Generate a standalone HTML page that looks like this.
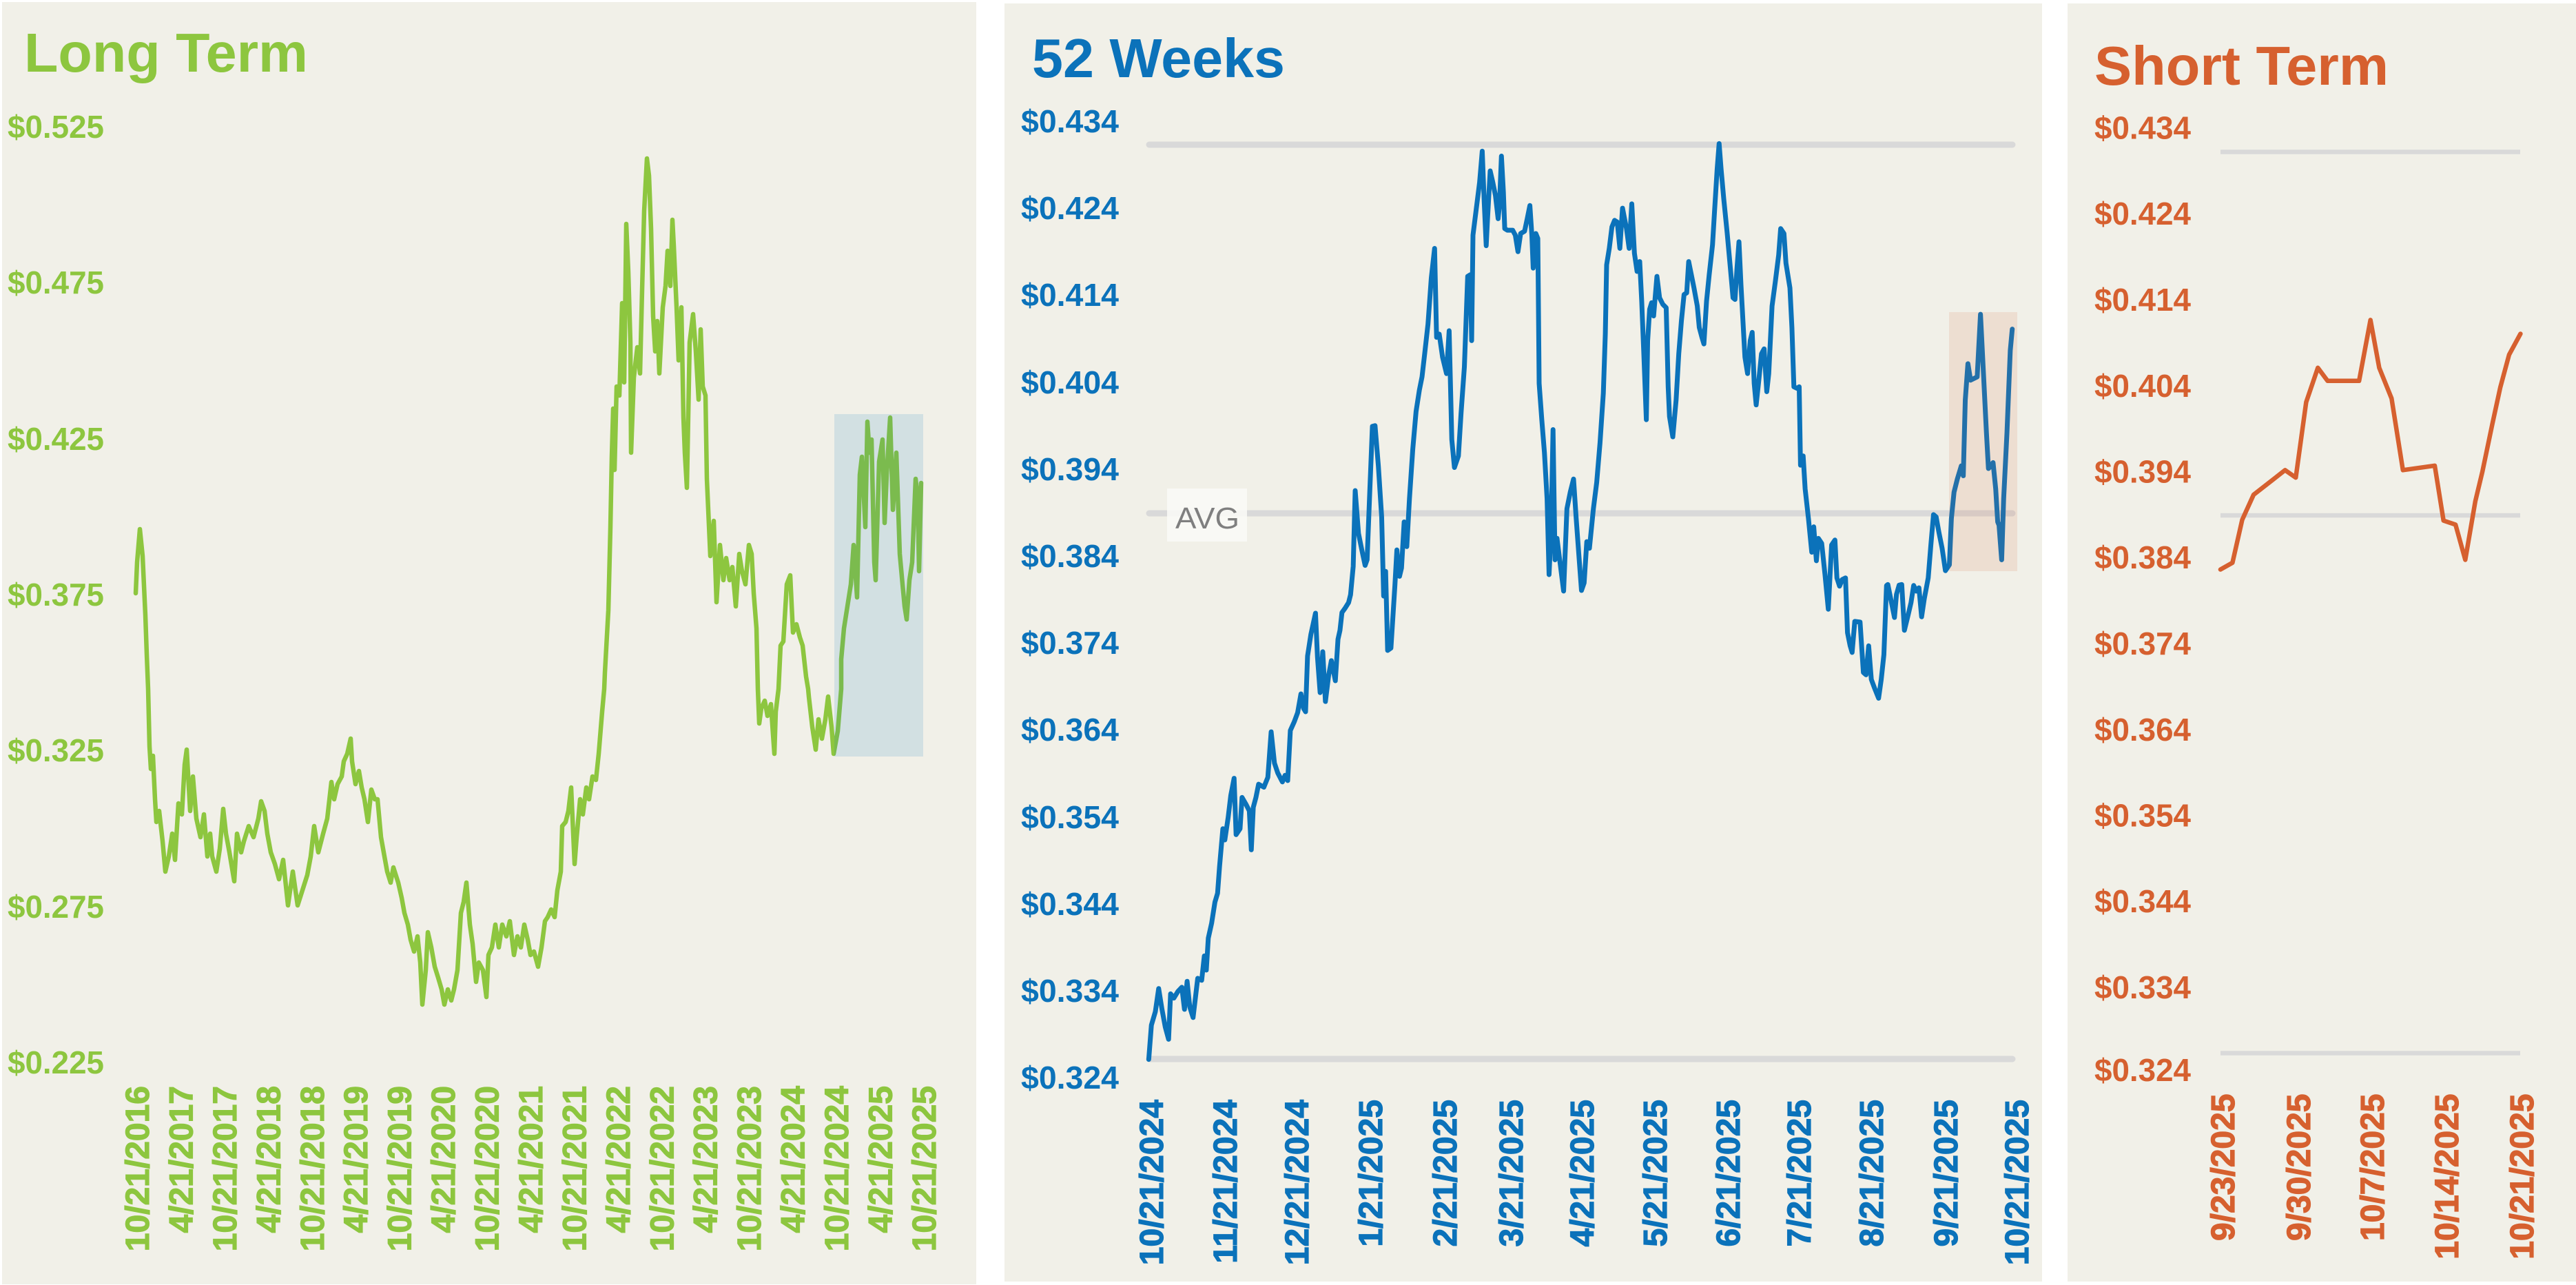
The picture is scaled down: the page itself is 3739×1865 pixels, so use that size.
<!DOCTYPE html>
<html>
<head>
<meta charset="utf-8">
<style>
  html,body{margin:0;padding:0;background:#ffffff;}
  svg{display:block;}
  text{font-family:"Liberation Sans","DejaVu Sans",sans-serif;}
  .t{font-weight:bold;font-size:80px;}
  .y{font-weight:bold;font-size:46px;}
  .x{font-weight:bold;font-size:48px;stroke-width:1.2px;}
</style>
</head>
<body>
<svg width="3739" height="1865" viewBox="0 0 3739 1865" xmlns="http://www.w3.org/2000/svg">
  <rect x="0" y="0" width="3739" height="1865" fill="#ffffff"/>

  <!-- ================= PANEL 1: Long Term ================= -->
  <rect x="3" y="3" width="1414" height="1861" fill="#F1F0E8"/>
  <text class="t" x="35" y="104" fill="#8DC63F" textLength="412" lengthAdjust="spacingAndGlyphs">Long Term</text>
  <g fill="#8DC63F">
    <text class="y" x="11" y="200" textLength="140" lengthAdjust="spacingAndGlyphs">$0.525</text>
    <text class="y" x="11" y="426" textLength="140" lengthAdjust="spacingAndGlyphs">$0.475</text>
    <text class="y" x="11" y="653" textLength="140" lengthAdjust="spacingAndGlyphs">$0.425</text>
    <text class="y" x="11" y="879" textLength="140" lengthAdjust="spacingAndGlyphs">$0.375</text>
    <text class="y" x="11" y="1105" textLength="140" lengthAdjust="spacingAndGlyphs">$0.325</text>
    <text class="y" x="11" y="1332" textLength="140" lengthAdjust="spacingAndGlyphs">$0.275</text>
    <text class="y" x="11" y="1558" textLength="140" lengthAdjust="spacingAndGlyphs">$0.225</text>
  </g>
  <polyline fill="none" stroke="#8DC63F" stroke-width="6.5" stroke-linejoin="round" stroke-linecap="round"
    points="197,861 199,816 203,768 207,807 211,893 213,950 215,1000 217,1083 219,1116 222,1097 225,1160 227,1193 231,1177 236,1221 240,1265 245,1243 250,1210 254,1248 259,1166 264,1182 268,1110 271,1088 276,1177 280,1127 285,1188 291,1215 296,1182 301,1243 305,1210 308,1243 314,1265 319,1232 324,1174 328,1210 333,1237 340,1279 344,1210 350,1237 354,1221 361,1199 368,1215 375,1188 379,1163 384,1177 388,1210 393,1237 399,1254 405,1276 411,1248 418,1314 425,1265 432,1314 439,1292 446,1270 451,1243 456,1199 462,1237 469,1210 475,1188 481,1135 485,1160 490,1138 496,1127 499,1105 504,1094 509,1072 511,1105 516,1138 521,1119 525,1143 529,1160 534,1193 539,1146 544,1160 548,1160 553,1215 558,1243 562,1265 567,1281 571,1259 578,1281 583,1303 587,1325 592,1342 596,1364 601,1381 606,1359 610,1397 613,1458 618,1408 621,1353 626,1375 631,1403 636,1419 641,1436 645,1458 650,1436 655,1452 659,1436 664,1408 669,1325 673,1309 677,1281 682,1342 686,1370 691,1425 695,1397 701,1408 706,1447 709,1386 714,1375 719,1342 724,1375 729,1342 735,1359 740,1337 746,1386 751,1359 756,1375 761,1342 766,1364 770,1386 775,1381 781,1403 786,1375 791,1337 795,1331 800,1320 805,1331 809,1292 814,1265 816,1199 821,1193 825,1177 829,1143 834,1254 837,1215 842,1160 846,1182 851,1143 855,1160 860,1127 865,1132 869,1094 874,1033 877,1000 878,976 883,886 886,765 888,663 890,593 892,682 895,561 899,574 903,440 906,555 909,325 912,395 915,497 916,657 920,548 925,504 929,542 932,421 935,306 939,230 942,255 945,332 948,459 951,510 954,466 957,542 962,446 966,415 969,364 973,415 976,319 978,357 982,446 985,523 989,446 992,606 994,657 997,708 1001,497 1006,456 1010,510 1014,580 1017,478 1020,561 1024,574 1026,695 1031,807 1036,756 1040,874 1045,791 1050,842 1054,810 1059,842 1063,823 1068,880 1073,804 1077,829 1082,848 1087,791 1091,804 1094,861 1098,912 1100,1000 1102,1050 1105,1028 1110,1017 1114,1039 1119,1022 1122,1066 1124,1094 1126,1033 1130,1000 1133,937 1137,931 1142,848 1147,835 1151,918 1156,906 1161,925 1165,937 1170,982 1173,1000 1174,1011 1179,1055 1184,1088 1188,1044 1193,1072 1198,1044 1202,1011 1207,1055 1210,1094 1216,1061 1221,1000 1221,957 1225,912 1230,880 1235,848 1239,791 1244,867 1248,689 1251,663 1256,765 1259,612 1262,657 1265,638 1269,816 1271,842 1276,670 1281,638 1284,759 1287,689 1292,606 1296,740 1301,657 1306,804 1310,848 1313,880 1316,899 1320,842 1324,816 1329,695 1332,721 1334,829 1337,701"/>
  <rect x="1211" y="601" width="129" height="497" fill="#0872BA" fill-opacity="0.13"/>
  <g fill="#8DC63F" stroke="#8DC63F" text-anchor="end">
    <text class="x" transform="translate(216,1576) rotate(-90)">10/21/2016</text>
    <text class="x" transform="translate(279.4,1576) rotate(-90)">4/21/2017</text>
    <text class="x" transform="translate(342.9,1576) rotate(-90)">10/21/2017</text>
    <text class="x" transform="translate(406.3,1576) rotate(-90)">4/21/2018</text>
    <text class="x" transform="translate(469.8,1576) rotate(-90)">10/21/2018</text>
    <text class="x" transform="translate(533.2,1576) rotate(-90)">4/21/2019</text>
    <text class="x" transform="translate(596.6,1576) rotate(-90)">10/21/2019</text>
    <text class="x" transform="translate(660.1,1576) rotate(-90)">4/21/2020</text>
    <text class="x" transform="translate(723.5,1576) rotate(-90)">10/21/2020</text>
    <text class="x" transform="translate(787,1576) rotate(-90)">4/21/2021</text>
    <text class="x" transform="translate(850.4,1576) rotate(-90)">10/21/2021</text>
    <text class="x" transform="translate(913.8,1576) rotate(-90)">4/21/2022</text>
    <text class="x" transform="translate(977.3,1576) rotate(-90)">10/21/2022</text>
    <text class="x" transform="translate(1040.7,1576) rotate(-90)">4/21/2023</text>
    <text class="x" transform="translate(1104.2,1576) rotate(-90)">10/21/2023</text>
    <text class="x" transform="translate(1167.6,1576) rotate(-90)">4/21/2024</text>
    <text class="x" transform="translate(1231,1576) rotate(-90)">10/21/2024</text>
    <text class="x" transform="translate(1294.5,1576) rotate(-90)">4/21/2025</text>
    <text class="x" transform="translate(1357.9,1576) rotate(-90)">10/21/2025</text>
  </g>

  <!-- ================= PANEL 2: 52 Weeks ================= -->
  <rect x="1458" y="5" width="1506" height="1855" fill="#F1F0E8"/>
  <text class="t" x="1498" y="112" fill="#0B72BA" textLength="367" lengthAdjust="spacingAndGlyphs">52 Weeks</text>
  <g fill="#0B72BA">
    <text class="y" x="1482" y="192" textLength="142" lengthAdjust="spacingAndGlyphs">$0.434</text>
    <text class="y" x="1482" y="318" textLength="142" lengthAdjust="spacingAndGlyphs">$0.424</text>
    <text class="y" x="1482" y="444" textLength="142" lengthAdjust="spacingAndGlyphs">$0.414</text>
    <text class="y" x="1482" y="571" textLength="142" lengthAdjust="spacingAndGlyphs">$0.404</text>
    <text class="y" x="1482" y="697" textLength="142" lengthAdjust="spacingAndGlyphs">$0.394</text>
    <text class="y" x="1482" y="823" textLength="142" lengthAdjust="spacingAndGlyphs">$0.384</text>
    <text class="y" x="1482" y="949" textLength="142" lengthAdjust="spacingAndGlyphs">$0.374</text>
    <text class="y" x="1482" y="1075" textLength="142" lengthAdjust="spacingAndGlyphs">$0.364</text>
    <text class="y" x="1482" y="1202" textLength="142" lengthAdjust="spacingAndGlyphs">$0.354</text>
    <text class="y" x="1482" y="1328" textLength="142" lengthAdjust="spacingAndGlyphs">$0.344</text>
    <text class="y" x="1482" y="1454" textLength="142" lengthAdjust="spacingAndGlyphs">$0.334</text>
    <text class="y" x="1482" y="1580" textLength="142" lengthAdjust="spacingAndGlyphs">$0.324</text>
  </g>
  <g stroke="#D9D9D9" stroke-width="9" stroke-linecap="round">
    <line x1="1668" y1="210" x2="2921" y2="210"/>
    <line x1="1668" y1="745" x2="2921" y2="745"/>
    <line x1="1668" y1="1537" x2="2921" y2="1537"/>
  </g>
  <rect x="1694" y="709" width="116" height="77" fill="#FAFAF7" fill-opacity="0.85"/>
  <text x="1706" y="767" font-size="44" fill="#7F7F7F" textLength="93" lengthAdjust="spacingAndGlyphs">AVG</text>
  <g transform="translate(1458,150) scale(0.96043,0.47831)">
    <polyline fill="none" stroke="#0B72BA" stroke-width="7" stroke-linejoin="round" stroke-linecap="round" vector-effect="non-scaling-stroke"
      points="218,2901 222,2797 228,2756 233,2686 238,2749 243,2803 248,2840 251,2702 256,2715 262,2695 268,2682 272,2749 276,2664 280,2742 285,2774 292,2655 298,2661 302,2587 305,2630 308,2533 313,2488 318,2424 322,2397 325,2316 330,2201 333,2235 338,2167 342,2100 347,2048 350,2219 356,2201 359,2106 365,2127 370,2147 373,2265 376,2136 380,2106 384,2066 392,2075 398,2045 403,1907 408,2002 413,2032 420,2059 424,2039 428,2055 432,1903 438,1876 443,1849 448,1792 452,1836 455,1846 458,1677 463,1612 470,1547 473,1680 477,1788 481,1664 485,1815 490,1734 494,1691 500,1752 504,1626 507,1599 510,1545 515,1531 520,1515 523,1491 527,1405 530,1175 535,1305 540,1355 545,1402 548,1385 552,1180 556,980 560,978 565,1100 570,1255 573,1495 576,1420 579,1660 584,1653 590,1463 593,1355 597,1435 600,1410 604,1270 608,1345 612,1200 617,1050 622,935 627,870 631,830 635,760 640,670 645,530 650,440 653,710 657,700 662,770 668,820 672,690 676,1020 680,1105 686,1070 690,940 695,800 700,525 704,520 706,720 708,400 713,320 718,240 722,145 725,300 728,432 730,350 734,205 738,240 742,280 746,350 748,310 751,160 754,270 756,380 760,385 768,385 772,400 776,450 780,395 786,388 790,350 794,310 797,400 799,500 803,395 806,410 808,850 812,960 816,1060 820,1200 823,1430 826,1300 829,990 832,1385 835,1320 840,1400 845,1480 850,1230 855,1180 860,1140 864,1260 868,1370 872,1478 876,1455 880,1330 884,1350 890,1230 895,1150 900,1030 905,880 908,700 910,490 914,440 918,375 922,355 926,360 930,440 934,318 940,380 944,440 948,305 952,455 956,510 960,480 963,600 966,750 970,960 972,720 975,625 978,605 981,645 986,525 990,590 995,610 1000,620 1003,860 1005,950 1010,1012 1015,900 1019,760 1023,660 1027,580 1031,575 1034,480 1038,520 1042,560 1047,615 1050,680 1054,710 1057,730 1061,600 1065,520 1070,430 1073,330 1077,200 1080,122 1083,200 1087,290 1092,390 1097,500 1101,590 1104,595 1107,500 1110,420 1113,550 1116,660 1119,770 1123,820 1127,720 1130,695 1133,850 1136,915 1140,840 1144,760 1148,745 1152,875 1155,820 1160,615 1165,540 1170,460 1173,380 1178,395 1181,485 1187,560 1190,680 1193,860 1198,865 1201,860 1203,1098 1207,1070 1210,1170 1215,1260 1220,1362 1223,1285 1227,1388 1230,1320 1235,1335 1240,1430 1245,1535 1250,1340 1255,1325 1258,1440 1262,1465 1266,1445 1271,1440 1274,1606 1278,1646 1281,1666 1285,1572 1293,1574 1298,1727 1302,1734 1306,1646 1310,1748 1315,1775 1321,1805 1325,1748 1329,1673 1333,1463 1335,1460 1340,1510 1345,1560 1348,1490 1352,1462 1356,1460 1360,1599 1365,1558 1370,1515 1374,1463 1378,1480 1382,1470 1386,1558 1390,1504 1396,1440 1400,1340 1404,1248 1408,1255 1412,1300 1417,1350 1422,1418 1428,1400 1431,1260 1435,1180 1440,1140 1446,1100 1449,1130 1452,900 1456,790 1460,840 1465,835 1470,830 1475,640 1480,840 1484,1000 1487,1108 1491,1100 1494,1090 1498,1170 1501,1270 1503,1280 1507,1385 1510,1200 1515,1000 1520,750 1523,685"/>
  </g>
  <rect x="2829" y="453" width="99" height="376" fill="#D6602F" fill-opacity="0.12"/>
  <g fill="#0B72BA" stroke="#0B72BA" text-anchor="end">
    <text class="x" transform="translate(1688,1596) rotate(-90)">10/21/2024</text>
    <text class="x" transform="translate(1795,1596) rotate(-90)">11/21/2024</text>
    <text class="x" transform="translate(1899,1596) rotate(-90)">12/21/2024</text>
    <text class="x" transform="translate(2006,1596) rotate(-90)">1/21/2025</text>
    <text class="x" transform="translate(2114,1596) rotate(-90)">2/21/2025</text>
    <text class="x" transform="translate(2210,1596) rotate(-90)">3/21/2025</text>
    <text class="x" transform="translate(2313,1596) rotate(-90)">4/21/2025</text>
    <text class="x" transform="translate(2419,1596) rotate(-90)">5/21/2025</text>
    <text class="x" transform="translate(2525,1596) rotate(-90)">6/21/2025</text>
    <text class="x" transform="translate(2628,1596) rotate(-90)">7/21/2025</text>
    <text class="x" transform="translate(2733,1596) rotate(-90)">8/21/2025</text>
    <text class="x" transform="translate(2841,1596) rotate(-90)">9/21/2025</text>
    <text class="x" transform="translate(2944,1596) rotate(-90)">10/21/2025</text>
  </g>

  <!-- ================= PANEL 3: Short Term ================= -->
  <rect x="3001" y="5" width="738" height="1855" fill="#F1F0E8"/>
  <text class="t" x="3040" y="123" fill="#D6602F" textLength="427" lengthAdjust="spacingAndGlyphs">Short Term</text>
  <g fill="#D6602F">
    <text class="y" x="3040" y="201.5" textLength="140" lengthAdjust="spacingAndGlyphs">$0.434</text>
    <text class="y" x="3040" y="326" textLength="140" lengthAdjust="spacingAndGlyphs">$0.424</text>
    <text class="y" x="3040" y="451" textLength="140" lengthAdjust="spacingAndGlyphs">$0.414</text>
    <text class="y" x="3040" y="576" textLength="140" lengthAdjust="spacingAndGlyphs">$0.404</text>
    <text class="y" x="3040" y="700.5" textLength="140" lengthAdjust="spacingAndGlyphs">$0.394</text>
    <text class="y" x="3040" y="825" textLength="140" lengthAdjust="spacingAndGlyphs">$0.384</text>
    <text class="y" x="3040" y="950" textLength="140" lengthAdjust="spacingAndGlyphs">$0.374</text>
    <text class="y" x="3040" y="1075" textLength="140" lengthAdjust="spacingAndGlyphs">$0.364</text>
    <text class="y" x="3040" y="1199.5" textLength="140" lengthAdjust="spacingAndGlyphs">$0.354</text>
    <text class="y" x="3040" y="1324" textLength="140" lengthAdjust="spacingAndGlyphs">$0.344</text>
    <text class="y" x="3040" y="1449" textLength="140" lengthAdjust="spacingAndGlyphs">$0.334</text>
    <text class="y" x="3040" y="1569" textLength="140" lengthAdjust="spacingAndGlyphs">$0.324</text>
  </g>
  <g stroke="#D9D9D9" stroke-width="6.5">
    <line x1="3223" y1="220.5" x2="3658" y2="220.5"/>
    <line x1="3223" y1="748" x2="3658" y2="748"/>
    <line x1="3223" y1="1528.5" x2="3658" y2="1528.5"/>
  </g>
  <g transform="translate(3000,150) scale(0.47130,0.54209)">
    <polyline fill="none" stroke="#D6602F" stroke-width="6.5" stroke-linejoin="round" stroke-linecap="round" vector-effect="non-scaling-stroke"
      points="473,1248 510,1230 540,1115 575,1048 672,982 705,1002 737,800 773,708 803,743 900,743 935,580 962,708 1000,790 1035,982 1133,970 1160,1117 1197,1128 1227,1222 1258,1065 1280,985 1310,860 1335,760 1362,673 1397,617"/>
  </g>
  <g fill="#D6602F" stroke="#D6602F" text-anchor="end">
    <text class="x" transform="translate(3243,1587.5) rotate(-90)">9/23/2025</text>
    <text class="x" transform="translate(3353,1587.5) rotate(-90)">9/30/2025</text>
    <text class="x" transform="translate(3460,1587.5) rotate(-90)">10/7/2025</text>
    <text class="x" transform="translate(3568,1587.5) rotate(-90)">10/14/2025</text>
    <text class="x" transform="translate(3677,1587.5) rotate(-90)">10/21/2025</text>
  </g>
</svg>
</body>
</html>
